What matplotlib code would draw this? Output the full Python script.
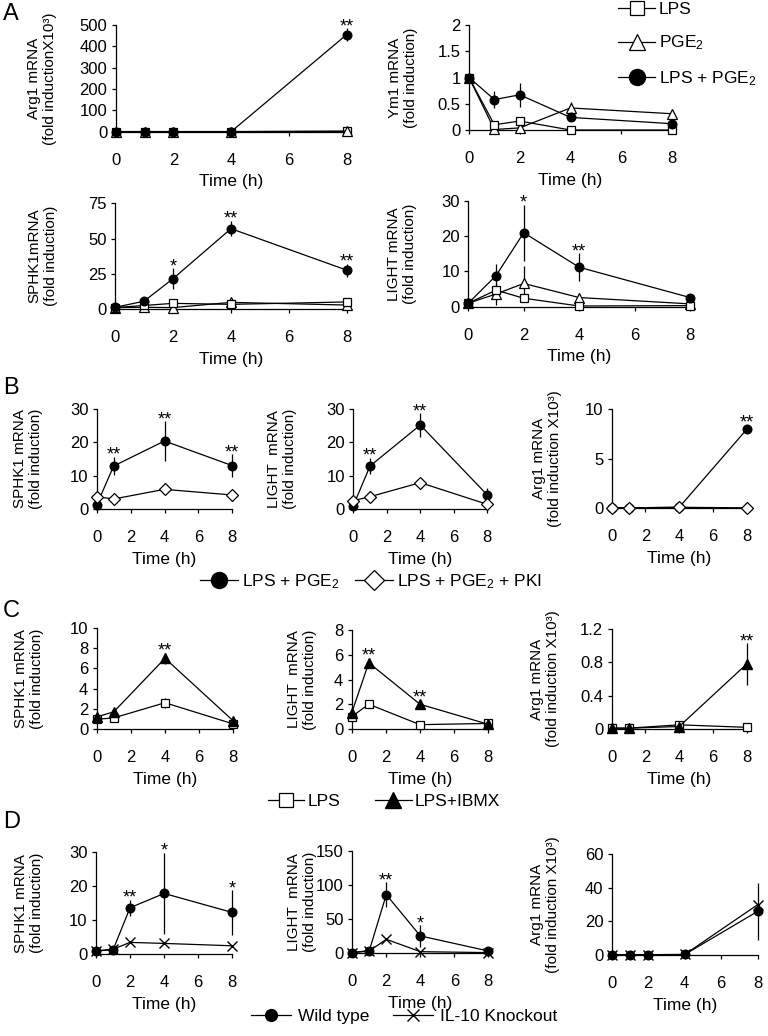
import matplotlib
matplotlib.use("Agg")
import matplotlib.pyplot as plt
from matplotlib.lines import Line2D
from matplotlib.ticker import FuncFormatter
import numpy as np

plt.rcParams['font.family'] = ['Liberation Sans', 'DejaVu Sans']
plt.rcParams['mathtext.fontset'] = 'custom'
plt.rcParams['mathtext.rm'] = 'Liberation Sans'
plt.rcParams['mathtext.it'] = 'Liberation Sans:italic'
plt.rcParams['mathtext.bf'] = 'Liberation Sans:bold'

# ---- data ----
t5 = [0, 1, 2, 4, 8]
t4 = [0, 1, 4, 8]

# A: LPS, PGE2, LPS+PGE2
a_arg1_lps = [0.5, 0.5, 0.5, 0.5, 1]
a_arg1_pge = [0.5, 0.5, 0.5, 0.5, 3]
a_arg1_both = [0.5, 0.5, 0.5, 0.5, 455]
a_arg1_both_err = [0, 0, 0, 0, 30]

a_ym1_lps = [1, 0.1, 0.17, 0, 0]
a_ym1_pge = [1, 0.01, 0.04, 0.42, 0.31]
a_ym1_pge_err = [0, 0, 0, 0.12, 0]
a_ym1_both = [1, 0.58, 0.67, 0.24, 0.12]
a_ym1_both_err = [0, 0.17, 0.23, 0.03, 0.02]

a_sphk_lps = [1, 2.5, 4, 3.3, 5]
a_sphk_pge = [1, 1.2, 1, 4.7, 2.8]
a_sphk_both = [1.2, 5.5, 21.5, 57, 27.5]
a_sphk_both_err = [0, 1, 7.5, 5.5, 4.5]

a_light_lps = [1, 4.7, 2.4, 0.2, 0.3]
a_light_pge = [1, 3.6, 6.6, 2.6, 0.8]
a_light_pge_err = [0, 3, 5, 0.5, 0]
a_light_both = [1, 8.8, 21, 11.2, 2.6]
a_light_both_err = [0, 3.3, 8, 4, 0.3]

# B: LPS+PGE2, LPS+PGE2+PKI
b_sphk_both = [1.2, 12.9, 20.4, 13]
b_sphk_both_err = [0, 2.8, 6, 3.5]
b_sphk_pki = [3.7, 3.0, 5.9, 4.2]

b_light_both = [1.0, 12.9, 25.2, 4.2]
b_light_both_err = [0, 2.5, 3.5, 2]
b_light_pki = [2.5, 3.7, 7.9, 1.4]

b_arg1_both = [0.05, 0.05, 0.1, 7.95]
b_arg1_both_err = [0, 0, 0, 0.1]
b_arg1_pki = [0.05, 0.05, 0.1, 0.05]

# C: LPS, LPS+IBMX
c_sphk_lps = [0.96, 1.1, 2.6, 0.5]
c_sphk_lps_err = [0, 0, 0.5, 0]
c_sphk_ibmx = [1.2, 1.7, 7.0, 0.8]
c_sphk_ibmx_err = [0, 0, 0.55, 0.4]

c_light_lps = [1.0, 2.0, 0.35, 0.45]
c_light_ibmx = [1.3, 5.35, 2.0, 0.38]
c_light_ibmx_err = [0, 0.4, 0.2, 0]

c_arg1_lps = [0.01, 0.01, 0.05, 0.02]
c_arg1_ibmx = [0.01, 0.01, 0.03, 0.78]
c_arg1_ibmx_err = [0, 0, 0, 0.25]

# D: wild type, IL-10 knockout
d_sphk_wt = [1, 1.3, 13.7, 17.9, 12.3]
d_sphk_wt_err = [0, 0, 2.3, 12, 6.6]
d_sphk_ko = [1, 1.5, 3.5, 3.2, 2.5]

d_light_wt = [1, 4, 86, 25.5, 3.4]
d_light_wt_err = [0, 0, 18, 16, 0]
d_light_ko = [1, 3.4, 20.5, 2.4, 1]

d_arg1_wt = [0.2, 0.2, 0.2, 0.3, 26]
d_arg1_wt_err = [0, 0, 0, 0, 17]
d_arg1_ko = [0.2, 0.2, 0.2, 0.3, 30]

# ---- figure ----
W, H = 768, 1036
fig = plt.figure(figsize=(W / 100, H / 100), dpi=100)

SQ = dict(marker='s', mfc='white', mec='black', ms=5.5, mew=0.9)
TRI = dict(marker='^', mfc='white', mec='black', ms=6.5, mew=0.9)
DOT = dict(marker='o', mfc='black', mec='black', ms=6.2)
DIA = dict(marker='D', mfc='white', mec='black', ms=6.3, mew=0.9)
FTRI = dict(marker='^', mfc='black', mec='black', ms=6.5)
CROSS = dict(marker='x', mfc='none', mec='black', ms=7, mew=1)


def make_ax(l, r, t, b):
    return fig.add_axes([l / W, 1 - b / H, (r - l) / W, (b - t) / H])


def series(ax, t, y, style, err=None, z=3):
    t = np.array(t, float)
    y = np.array(y, float)
    if err is not None:
        e = np.array(err, float)
        m = e > 0
        ax.vlines(t[m], (y - e)[m], (y + e)[m], color='black', lw=0.9,
                  zorder=1, clip_on=False)
    ax.plot(t, y, color='black', lw=0.9, zorder=z, clip_on=False, **style)


def stars(ax, t, y, err, marks):
    # star text sits just above the error bar or the marker, whichever is higher
    for i, s in marks:
        p0 = ax.transData.transform((t[i], y[i]))
        p1 = ax.transData.transform((t[i], y[i] + err[i]))
        e_px = p1[1] - p0[1]
        extra = max(5 - e_px, 0)
        off = (extra - 7) * 0.72
        ax.annotate(s, (t[i], y[i] + err[i]), xytext=(0, off),
                    textcoords='offset points', ha='center', va='bottom',
                    fontsize=13, annotation_clip=False)


def style_ax(ax, ylim, yticks, ylabel, lab_px):
    ax.set_xlim(0, 8)
    ax.set_ylim(*ylim)
    ax.set_xticks([0, 2, 4, 6, 8])
    ax.set_yticks(yticks)
    ax.yaxis.set_major_formatter(FuncFormatter(lambda v, p: f'{v:g}'))
    for s in ['top', 'right']:
        ax.spines[s].set_visible(False)
    for s in ['left', 'bottom']:
        ax.spines[s].set_linewidth(0.9)
    ax.tick_params(direction='out', length=3, width=0.9, labelsize=12)
    ax.tick_params(axis='x', pad=12)
    ax.tick_params(axis='y', pad=3)
    ax.set_xlabel('Time (h)', fontsize=12.5, labelpad=5)
    ax.set_ylabel(ylabel, fontsize=11)
    pos = ax.get_position()
    ax.yaxis.set_label_coords(lab_px / W, pos.y0 + pos.height / 2,
                              transform=fig.transFigure)


# Panel A
ax = make_ax(115.7, 346.7, 25, 131.7)
style_ax(ax, (0, 500), range(0, 501, 100), 'Arg1 mRNA\n(fold inductionX10³)', 57)
series(ax, t5, a_arg1_lps, SQ)
series(ax, t5, a_arg1_pge, TRI)
series(ax, t5, a_arg1_both, DOT, a_arg1_both_err, z=4)
stars(ax, t5, a_arg1_both, a_arg1_both_err, [(4, '**')])

ax = make_ax(469, 672, 25, 130)
style_ax(ax, (0, 2), [0, 0.5, 1, 1.5, 2], 'Ym1 mRNA\n(fold induction)', 418)
series(ax, t5, a_ym1_pge, TRI, a_ym1_pge_err)
series(ax, t5, a_ym1_lps, SQ)
series(ax, t5, a_ym1_both, DOT, a_ym1_both_err, z=4)

ax = make_ax(115, 347, 203.3, 309)
style_ax(ax, (0, 75), [0, 25, 50, 75], 'SPHK1mRNA\n(fold induction)', 58)
series(ax, t5, a_sphk_pge, TRI)
series(ax, t5, a_sphk_lps, SQ)
series(ax, t5, a_sphk_both, DOT, a_sphk_both_err, z=4)
stars(ax, t5, a_sphk_both, a_sphk_both_err, [(2, '*'), (3, '**'), (4, '**')])

ax = make_ax(468.3, 690, 201, 306.7)
style_ax(ax, (0, 30), [0, 10, 20, 30], 'LIGHT mRNA\n(fold induction)', 417)
series(ax, t5, a_light_pge, TRI, a_light_pge_err)
series(ax, t5, a_light_lps, SQ)
series(ax, t5, a_light_both, DOT, a_light_both_err, z=4)
stars(ax, t5, a_light_both, a_light_both_err, [(2, '*'), (3, '**')])

# Panel B
ax = make_ax(96.7, 232.3, 409, 509)
style_ax(ax, (0, 30), [0, 10, 20, 30], 'SPHK1 mRNA\n(fold induction)', 43)
series(ax, t4, b_sphk_both, DOT, b_sphk_both_err)
series(ax, t4, b_sphk_pki, DIA, z=4)
stars(ax, t4, b_sphk_both, b_sphk_both_err, [(1, '**'), (2, '**'), (3, '**')])

ax = make_ax(353.3, 487.3, 409, 509)
style_ax(ax, (0, 30), [0, 10, 20, 30], 'LIGHT  mRNA\n(fold induction)', 297)
series(ax, t4, b_light_both, DOT, b_light_both_err)
series(ax, t4, b_light_pki, DIA, z=4)
stars(ax, t4, b_light_both, b_light_both_err, [(1, '**'), (2, '**')])

ax = make_ax(611.7, 746.7, 409, 508.3)
style_ax(ax, (0, 10), [0, 5, 10], 'Arg1 mRNA\n(fold induction X10³)', 561.7)
series(ax, t4, b_arg1_both, DOT, b_arg1_both_err)
series(ax, t4, b_arg1_pki, DIA, z=4)
stars(ax, t4, b_arg1_both, b_arg1_both_err, [(3, '**')])

# Panel C
ax = make_ax(96.7, 233.3, 628, 729)
style_ax(ax, (0, 10), [0, 2, 4, 6, 8, 10], 'SPHK1 mRNA\n(fold induction)', 44)
series(ax, t4, c_sphk_lps, SQ, c_sphk_lps_err)
series(ax, t4, c_sphk_ibmx, FTRI, c_sphk_ibmx_err, z=4)
stars(ax, t4, c_sphk_ibmx, c_sphk_ibmx_err, [(2, '**')])

ax = make_ax(351.7, 488.3, 630, 729)
style_ax(ax, (0, 8), [0, 2, 4, 6, 8], 'LIGHT  mRNA\n(fold induction)', 316.7)
series(ax, t4, c_light_lps, SQ)
series(ax, t4, c_light_ibmx, FTRI, c_light_ibmx_err, z=4)
stars(ax, t4, c_light_ibmx, c_light_ibmx_err, [(1, '**'), (2, '**')])

ax = make_ax(611.7, 746.7, 629, 729)
style_ax(ax, (0, 1.2), [0, 0.4, 0.8, 1.2], 'Arg1 mRNA\n(fold induction X10³)', 560)
series(ax, t4, c_arg1_lps, SQ)
series(ax, t4, c_arg1_ibmx, FTRI, c_arg1_ibmx_err, z=4)
stars(ax, t4, c_arg1_ibmx, c_arg1_ibmx_err, [(3, '**')])

# Panel D
ax = make_ax(96, 232.3, 852.3, 954.3)
style_ax(ax, (0, 30), [0, 10, 20, 30], 'SPHK1 mRNA\n(fold induction)', 44)
series(ax, t5, d_sphk_wt, DOT, d_sphk_wt_err)
series(ax, t5, d_sphk_ko, CROSS, z=4)
stars(ax, t5, d_sphk_wt, d_sphk_wt_err, [(2, '**'), (3, '*'), (4, '*')])

ax = make_ax(352.3, 488.3, 851, 953.3)
style_ax(ax, (0, 150), [0, 50, 100, 150], 'LIGHT  mRNA\n(fold induction)', 316.7)
series(ax, t5, d_light_wt, DOT, d_light_wt_err)
series(ax, t5, d_light_ko, CROSS, z=4)
stars(ax, t5, d_light_wt, d_light_wt_err, [(2, '**'), (3, '*')])

ax = make_ax(611.7, 757.7, 854.3, 955)
style_ax(ax, (0, 60), [0, 20, 40, 60], 'Arg1 mRNA\n(fold induction X10³)', 560)
series(ax, t5, d_arg1_wt, DOT, d_arg1_wt_err)
series(ax, t5, d_arg1_ko, CROSS, z=4)


# ---- legends ----
def proxy(style, ms):
    st = dict(style)
    st['ms'] = ms
    return Line2D([], [], color='black', lw=0.9, **st)


leg_kw = dict(frameon=False, fontsize=12.5, handletextpad=0.2,
              borderpad=0, borderaxespad=0)

fig.legend([proxy(SQ, 10), proxy(TRI, 11), proxy(DOT, 11.5)],
           ['LPS', 'PGE$_2$', 'LPS + PGE$_2$'], loc='upper left',
           bbox_to_anchor=(618 / W, 1 - 2 / H), labelspacing=0.95,
           handlelength=2.15, **leg_kw)

fig.legend([proxy(DOT, 11.5), proxy(DIA, 10)],
           ['LPS + PGE$_2$', 'LPS + PGE$_2$ + PKI'], loc='center',
           bbox_to_anchor=(371 / W, 1 - 581.7 / H), ncol=2, columnspacing=0.9,
           handlelength=2.2, **leg_kw)

fig.legend([proxy(SQ, 10), proxy(FTRI, 11)],
           ['LPS', 'LPS+IBMX'], loc='center',
           bbox_to_anchor=(384 / W, 1 - 801.7 / H), ncol=2, columnspacing=2.0,
           handlelength=2.1, **leg_kw)

fig.legend([proxy(DOT, 8.5), proxy(CROSS, 8)],
           ['Wild type', 'IL-10 Knockout'], loc='center',
           bbox_to_anchor=(404 / W, 1 - 1016.7 / H), ncol=2, columnspacing=1.4,
           handlelength=2.3, handletextpad=0.4, frameon=False, fontsize=12.5,
           borderpad=0, borderaxespad=0)

# panel letters
for letter, y in [('A', 14), ('B', 388), ('C', 611), ('D', 822)]:
    fig.text(3 / W, 1 - y / H, letter, fontsize=17, ha='left', va='center')

fig.savefig('out.png', dpi=100)
